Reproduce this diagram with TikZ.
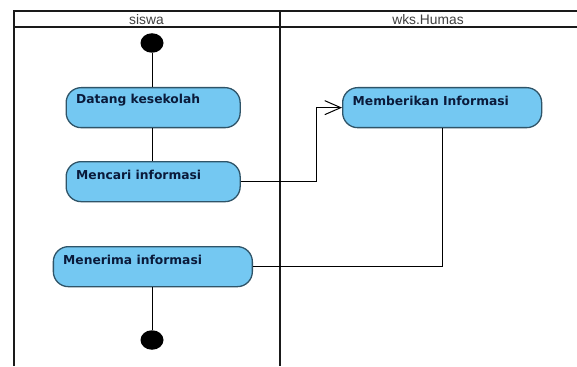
\documentclass[tikz,border=0pt]{standalone}
\usepackage{fontspec}
\setmainfont{Liberation Sans}
\newfontfamily\actfont{DejaVu Sans}
\usetikzlibrary{arrows.meta,shapes.geometric}
\definecolor{actfill}{HTML}{74C8F2}
\definecolor{actline}{HTML}{2F5468}
\definecolor{acttext}{HTML}{0A1A3A}
\definecolor{lane}{HTML}{1A1A1A}
\tikzset{
  x=1pt,y=-1pt,
  act/.style={draw=actline,line width=1.3pt,fill=actfill,rounded corners=15pt,inner sep=0pt,
    minimum height=40pt,anchor=north west},
  lbl/.style={text=acttext,font=\actfont\bfseries\fontsize{12.3}{14}\selectfont,anchor=west,inner sep=0pt},
  dot/.style={ellipse,fill=black,draw=none,minimum width=23pt,minimum height=19.5pt,inner sep=0pt},
  flow/.style={draw=black,line width=1pt},
  lanebar/.style={draw=lane,line width=2pt},
  head/.style={text=black!75,font=\fontsize{13.8}{15}\selectfont,inner sep=0pt},
  barb/.style={-{Straight Barb[length=16pt,width=14pt,line width=1pt]}}
}
\begin{document}
\begin{tikzpicture}
\useasboundingbox (0,0) rectangle (577,366);
\fill[white] (0,0) rectangle (577,366);
% lanes
\draw[lanebar] (14,366) -- (14,11.5) -- (577,11.5);
\draw[lanebar] (14,27.3) -- (577,27.3);
\draw[lanebar,line width=2.4pt] (280,11.5) -- (280,366);
\node[head] (h1) at (146.5,19.5) {siswa};
\node[head] (h2) at (428,19.5) {wks.Humas};
% nodes
\node[dot] (start) at (152,43) {};
\node[act,minimum width=174pt] (a1) at (65.5,87) {};
\node[lbl] (t1) at (76,100.5) {Datang kesekolah};
\node[act,minimum width=174pt] (a2) at (65.5,161) {};
\node[lbl] (t2) at (76,175) {Mencari informasi};
\node[act,minimum width=199pt] (a3) at (52.7,246) {};
\node[lbl] (t3) at (63,259.5) {Menerima informasi};
\node[act,minimum width=199pt] (a4) at (342,87) {};
\node[lbl] (t4) at (352.5,100.5) {Memberikan Informasi};
\node[dot] (end) at (152,340) {};
% flows
\draw[flow] (start) -- (start |- a1.north);
\draw[flow] (start |- a1.south) -- (start |- a2.north);
\draw[flow] (start |- a3.south) -- (end);
\draw[flow,barb] (a2.east) -- ++(76,0) |- (a4.west);
\draw[flow] (a4.south) |- (a3.east);
\end{tikzpicture}
\end{document}
